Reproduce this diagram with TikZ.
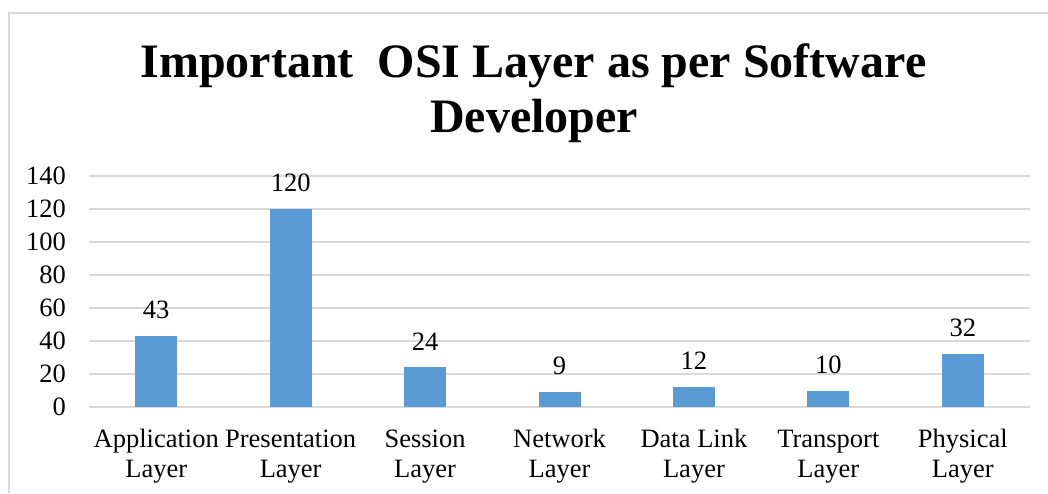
\documentclass[tikz,border=0pt]{standalone}
\usepackage{fontspec}
\setmainfont{Liberation Serif}
\definecolor{barblue}{HTML}{5B9BD5}
\definecolor{gridgray}{HTML}{D9D9D9}
\begin{document}
\begin{tikzpicture}[x=1pt,y=-1pt,
  lab/.style={font=\fontsize{26.5}{30}\selectfont, inner sep=0pt, text=black},
  ttl/.style={font=\fontsize{48}{53}\selectfont\bfseries, inner sep=0pt, anchor=base},
  bar/.style={fill=barblue, draw=none},
  grid/.style={draw=gridgray, line width=1.5pt}]
\useasboundingbox (0,0) rectangle (1048,493);
\fill[white] (0,0) rectangle (1048,493);
% chart frame
\draw[gridgray, line width=1.5pt] (9,493) -- (9,13) -- (1048,13);
% title
\node[ttl] (t1) at (533.5,77.5) {Important\ \ OSI Layer as per Software};
\node[ttl] (t2) at (534,132) {Developer};
% gridlines and y tick labels
\foreach \v in {0,20,...,140}{
  \pgfmathsetmacro{\yy}{407-1.65*\v}
  \draw[grid] (89,\yy) -- (1030,\yy);
  \node[lab, anchor=east] (tick\v) at (66,\yy) {\v};
}
% bars
\foreach \i/\v/\a/\b in {0/43/Application/Layer, 1/120/Presentation/Layer, 2/24/Session/Layer, 3/9/Network/Layer, 4/12/Data Link/Layer, 5/10/Transport/Layer, 6/32/Physical/Layer}{
  \pgfmathsetmacro{\cx}{89+134.43*(\i+0.5)}
  \pgfmathsetmacro{\top}{407-1.65*\v}
  \fill[bar] (\cx-21,407) rectangle (\cx+21,\top);
  \node[lab, anchor=center] (val\i) at (\cx,\top-26) {\v};
  \node[lab, anchor=base] (cat\i a) at (\cx,447) {\a};
  \node[lab, anchor=base] (cat\i b) at (\cx,477) {\b};
}
\end{tikzpicture}
\end{document}
